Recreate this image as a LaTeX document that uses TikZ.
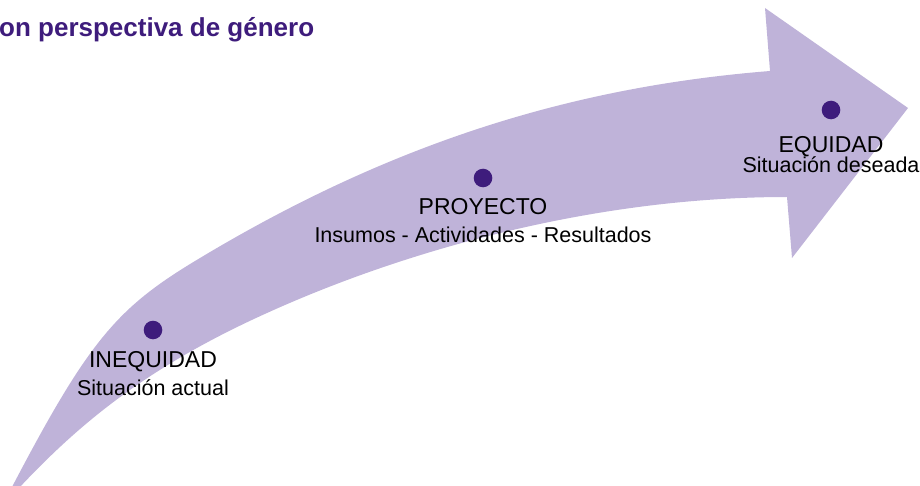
\documentclass[tikz,border=0pt]{standalone}
\usepackage{fontspec}
\setmainfont{Liberation Sans}
\usetikzlibrary{positioning}

\definecolor{lila}{HTML}{BFB3D9}
\definecolor{morado}{HTML}{3E1C7C}

\begin{document}
\begin{tikzpicture}[x=1pt, y=-1pt,
    punto/.style={circle, fill=morado, inner sep=0pt, minimum size=18.6pt},
    etiqueta/.style={align=center, inner sep=0pt, font=\fontsize{21.5}{28}\selectfont}]
        \useasboundingbox (0,0) rectangle (920,486);
        \clip (0,0) rectangle (920,486);

        % flecha curva
        \fill [lila] (12,487) .. controls (90,338) and (118,307) .. (200,258)
            .. controls (390,144) and (570,87) .. (770,71)
            -- (765,8) -- (908,108) -- (792,258) -- (787,197)
            .. controls (587,197) and (397,254) .. (267,313)
            .. controls (147,367) and (79,424) .. (19,488) -- cycle;

        \node [anchor=base west, inner sep=0pt, text=morado, font=\bfseries\fontsize{26}{30}\selectfont] (title) at (-1,37) {on perspectiva de género};

        \node [punto] (ineqdot) at (153,330) {};
        \node [punto] (proydot) at (483,178) {};
        \node [punto] (eqdot) at (831,110) {};

        \node [etiqueta, below=12pt of ineqdot] (ineq) {{\fontsize{23}{28}\selectfont INEQUIDAD}\\Situación actual};
        \node [etiqueta, below=11pt of proydot] (proy) {{\fontsize{23}{28}\selectfont PROYECTO}\\Insumos - Actividades - Resultados};
        \node [etiqueta, below=17pt of eqdot] (eq) {{\fontsize{23}{28}\selectfont EQUIDAD}\\[-8pt]Situación deseada};
    \end{tikzpicture}
\end{document}
